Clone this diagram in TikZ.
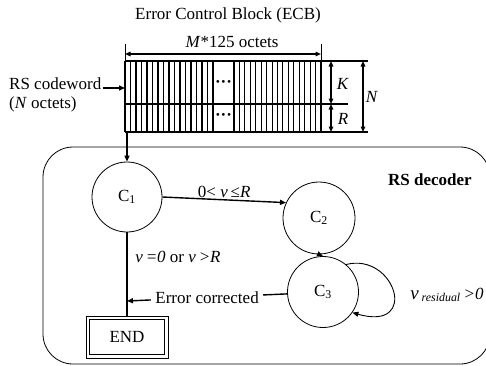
\documentclass[tikz,border=0pt]{standalone}
\usepackage{fontspec}
\setmainfont{Liberation Serif}
\usetikzlibrary{arrows.meta}
\begin{document}
\begin{tikzpicture}[x=1pt,y=-1pt,
  txt/.style={font=\fontsize{17}{19.5}\selectfont, inner sep=1pt},
  state/.style={draw, circle, line width=0.8pt, minimum size=70pt, inner sep=0pt, font=\fontsize{17}{19.5}\selectfont},
  blk/.style={line width=1.2pt},
  stripe/.style={line width=1.1pt},
  conn/.style={line width=1.4pt},
  tip/.style={-{Triangle[length=6pt,width=5pt]}},
  dim/.style={line width=1.3pt, {Triangle[length=5.5pt,width=4.5pt]}-{Triangle[length=5.5pt,width=4.5pt]}}
]
\useasboundingbox (0,0) rectangle (486,365);
\clip (0,0) rectangle (486,365);

% title
\node[txt] (title) at (228,15) {Error Control Block (ECB)};

% ECB block
\foreach \i in {0,...,16} \draw[stripe] (125+\i*5.5,61) -- (125+\i*5.5,132);
\foreach \i in {0,...,16} \draw[stripe] (234+\i*5.4375,61) -- (234+\i*5.4375,132);
\draw[blk] (125,61) -- (368,61);
\draw[blk] (125,104) -- (348,104);
\draw[blk] (125,132) -- (368,132);
\draw[blk] (125,61) -- (125,132);
\node[txt] (dots1) at (223.5,84) {\textbf{···}};
\node[txt] (dots2) at (223.5,117) {\textbf{···}};

% M*125 dimension
\coordinate (mL) at (125,54);
\coordinate (mR) at (321,54);
\draw[line width=0.8pt] (125,44) -- (125,61);
\draw[line width=0.8pt] (321,44) -- (321,61);
\draw[dim] (mL) -- (mR);
\node[txt] (mlab) at (232,42) {\textit{M}*125 octets};

% K, R, N dimensions
\coordinate (kT) at (331,61);
\coordinate (kB) at (331,104);
\coordinate (rB) at (331,132);
\coordinate (nT) at (363,61);
\coordinate (nB) at (363,132);
\draw[dim] (kT) -- (kB);
\draw[dim] (kB) -- (rB);
\draw[dim] (nT) -- (nB);
\node[txt] (K) at (343,84) {\textit{K}};
\node[txt] (R) at (343,119) {\textit{R}};
\node[txt] (N) at (372,97) {\textit{N}};

% RS codeword label
\node[txt, align=left, anchor=west] (rscw) at (8,95) {RS codeword\\(\textit{N} octets)};
\coordinate (blkL) at (125,88);
\coordinate (rsS) at (103,88);
\draw[conn, tip] (rsS) -- (blkL);

% RS decoder frame
\draw[line width=0.8pt, rounded corners=30pt] (43,147) rectangle (490,364);
\node[txt, font=\fontsize{17}{19.5}\selectfont\bfseries] (dec) at (430,180) {RS decoder};

% states
\node[state] (C1) at (127,197) {C\textsubscript{1}};
\node[state, minimum size=72pt] (C2) at (319,218) {C\textsubscript{2}};
\node[state, minimum size=71pt] (C3) at (323,292) {C\textsubscript{3}};
\node[draw, line width=0.8pt, minimum width=82pt, minimum height=42pt, inner sep=0pt, font=\fontsize{17}{19.5}\selectfont] (END) at (127,337) {END};
\draw[line width=0.8pt] ([xshift=4pt,yshift=-4pt]END.north west) rectangle ([xshift=-4pt,yshift=4pt]END.south east);

% connectors
\coordinate (blkB) at (127,132);
\draw[conn, tip] (blkB) -- (C1.north);
\draw[conn, tip] (C1.east) -- node[txt, above, yshift=0pt] {0<~\textit{ν}\,≤\textit{R}} (C2.155);
\draw[conn, tip] (C2.south) -- (C3.north);
\draw[conn] (C1.south) -- (END.north);
\node[txt] (lab1) at (178,257) {\textit{ν\,=0} or \textit{ν\,>R}};
\coordinate (ec) at (127,301);
\draw[conn, tip] (C3.183) -- node[txt, fill=white, inner xsep=4pt] (eclab) {Error corrected} (ec);
\draw[line width=0.9pt, tip] (C3.50) .. controls (395,252) and (420,332) .. (C3.-35);
\node[txt] (loopl) at (447,295) {{\fontsize{19}{20}\selectfont\textit{ν}}\,\textsubscript{\textit{residual}}\,\textit{>0}};
\end{tikzpicture}
\end{document}
